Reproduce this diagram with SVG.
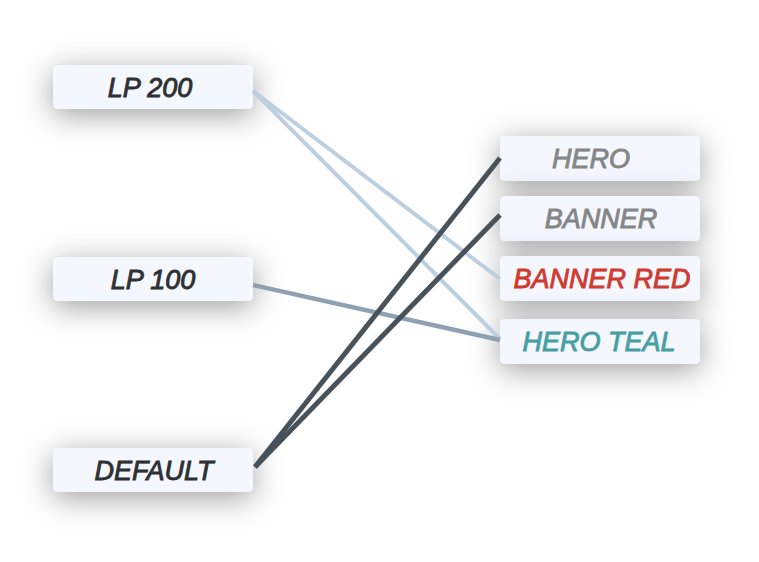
<svg xmlns="http://www.w3.org/2000/svg" width="759" height="562" viewBox="0 0 759 562">
<defs>
<filter id="sh" x="-50%" y="-150%" width="200%" height="400%">
<feDropShadow dx="0" dy="6" stdDeviation="15" flood-color="#000" flood-opacity="0.38"/>
</filter>
<style>
.box{fill:#f4f8fe;filter:url(#sh);}
.t{font-family:"Liberation Sans",Arial,sans-serif;font-style:italic;font-weight:normal;font-size:27px;text-anchor:middle;stroke-width:0.9px;}
.dk{fill:#2e3033;stroke:#2e3033;}
.gr{fill:#858687;stroke:#858687;}
.rd{fill:#d03a2f;stroke:#d03a2f;}
.tl{fill:#479fa4;stroke:#479fa4;}
.c{fill:none;stroke-linecap:butt;}
.l1{stroke:#bccfe0;stroke-width:4;}
.l2{stroke:#8ea1b3;stroke-width:4.5;}
.l3{stroke:#48525b;stroke-width:5;}
</style>
</defs>
<rect width="759" height="562" fill="#ffffff"/>
<g id="node-lp200"><rect class="box" x="53" y="65" width="200" height="44" rx="5"/><text class="t dk" x="150" y="97">LP 200</text></g>
<g id="node-lp100"><rect class="box" x="53" y="257" width="200" height="44" rx="5"/><text class="t dk" x="153" y="289">LP 100</text></g>
<g id="node-default"><rect class="box" x="53" y="448" width="200" height="44" rx="5"/><text class="t dk" x="154" y="480">DEFAULT</text></g>
<g id="node-hero"><rect class="box" x="500" y="136" width="200" height="45" rx="5"/><text class="t gr" x="591" y="168">HERO</text></g>
<g id="node-banner"><rect class="box" x="500" y="196" width="200" height="45" rx="5"/><text class="t gr" x="601" y="228">BANNER</text></g>
<g id="node-banner-red"><rect class="box" x="500" y="256" width="200" height="45" rx="5"/><text class="t rd" x="602" y="288">BANNER RED</text></g>
<g id="node-hero-teal"><rect class="box" x="500" y="319" width="200" height="45" rx="5"/><text class="t tl" x="599" y="351">HERO TEAL</text></g>
<g id="connectors">
<line class="c l1" x1="253" y1="91" x2="500" y2="279"/>
<line class="c l1" x1="253" y1="91" x2="500" y2="339"/>
<line class="c l2" x1="253" y1="285" x2="500" y2="340"/>
<line class="c l3" x1="255" y1="467" x2="500" y2="158"/>
<line class="c l3" x1="255" y1="467" x2="500" y2="215"/>
</g>
</svg>
